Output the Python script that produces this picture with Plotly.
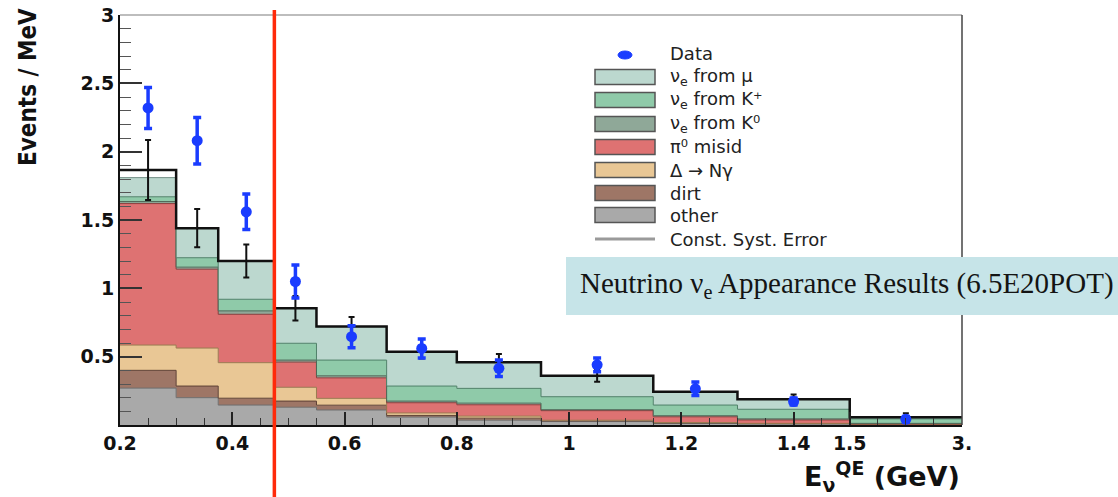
import plotly.graph_objects as go

# ---------------- data ----------------
EDGES_GEV = [0.2, 0.3, 0.375, 0.475, 0.55, 0.675, 0.8, 0.95, 1.15, 1.3, 1.5, 3.0]

# per-component contributions (Events / MeV), stacked bottom -> top
OTHER  = [0.27, 0.20, 0.146, 0.13, 0.11, 0.058, 0.035, 0.025, 0.012, 0.008, 0.003]
DIRT   = [0.13, 0.085, 0.05, 0.045, 0.035, 0.012, 0.015, 0.005, 0.003, 0.002, 0.001]
DELTA  = [0.185, 0.278, 0.26, 0.101, 0.05, 0.018, 0.015, 0.005, 0.003, 0.002, 0.001]
PI0    = [1.035, 0.577, 0.354, 0.184, 0.15, 0.075, 0.083, 0.07, 0.042, 0.025, 0.003]
NUE_K0 = [0.015, 0.015, 0.025, 0.015, 0.015, 0.012, 0.012, 0.007, 0.008, 0.008, 0.004]
NUE_KP = [0.035, 0.069, 0.085, 0.123, 0.115, 0.11, 0.108, 0.095, 0.078, 0.07, 0.033]
NUE_MU = [0.14, 0.216, 0.28, 0.256, 0.245, 0.251, 0.191, 0.154, 0.098, 0.073, 0.011]

TOTAL_PRED = [1.866, 1.44, 1.20, 0.854, 0.72, 0.536, 0.459, 0.361, 0.244, 0.188, 0.056]
TOTAL_ERR  = [0.22, 0.14, 0.12, 0.09, 0.07, 0.05, 0.06, 0.045, 0.03, 0.035, 0.03]

DATA     = [2.32, 2.08, 1.56, 1.05, 0.646, 0.56, 0.415, 0.44, 0.265, 0.172, 0.042]
DATA_ERR = [0.15, 0.17, 0.13, 0.12, 0.08, 0.07, 0.06, 0.05, 0.05, 0.025, 0.02]

THRESHOLD_GEV = 0.475

XTICK_GEV    = [0.2, 0.4, 0.6, 0.8, 1.0, 1.2, 1.4, 1.5, 3.0]
XTICK_LABELS = ["0.2", "0.4", "0.6", "0.8", "1", "1.2", "1.4", "1.5", "3."]
YTICK_VALS   = [0.5, 1, 1.5, 2, 2.5, 3]
YTICK_LABELS = ["0.5", "1", "1.5", "2", "2.5", "3"]

COMPONENTS = [
    ("other", OTHER, "#a9a9a9", "#6e6e6e"),
    ("dirt", DIRT, "#9e7666", "#5e4034"),
    ("Δ → Nγ", DELTA, "#e9c795", "#9a7a50"),
    ("π⁰ misid", PI0, "#de7272", "#8a3a3a"),
    ("ν<sub>e</sub> from K⁰", NUE_K0, "#8fa898", "#4d6656"),
    ("ν<sub>e</sub> from K⁺", NUE_KP, "#8fcaa9", "#4f8068"),
    ("ν<sub>e</sub> from μ", NUE_MU, "#bcd8cf", "#6f8c83"),
]

# ---------------- display transform (overflow bin 1.5-3 GeV compressed) ----------------
BREAK = 1.5
OVERFLOW_SCALE = 0.2 / 1.5


def to_disp(e):
    return e if e <= BREAK else BREAK + (e - BREAK) * OVERFLOW_SCALE


x_edges = [to_disp(e) for e in EDGES_GEV]
x_centers = [(a + b) / 2 for a, b in zip(x_edges[:-1], x_edges[1:])]
X_MIN, X_MAX = x_edges[0], x_edges[-1]

# ---------------- geometry helpers (pixels -> paper) ----------------
W, H = 1118, 497
PL, PR, PT, PB = 120, 962, 15, 425


def pxx(x):
    return (x - PL) / (PR - PL)


def pxy(y):
    return (PB - y) / (PB - PT)


fig = go.Figure()

# stacked histogram
cum = [0.0] * len(OTHER)
first = True
for name, vals, fillc, linec in COMPONENTS:
    cum = [c + v for c, v in zip(cum, vals)]
    fig.add_trace(go.Scatter(
        x=x_edges, y=cum + [cum[-1]], mode="lines", line_shape="hv",
        line=dict(color=linec, width=1), fill="tozeroy" if first else "tonexty",
        fillcolor=fillc, name=name, showlegend=False, hoverinfo="skip"))
    first = False

# total prediction outline
fig.add_trace(go.Scatter(
    x=x_edges, y=TOTAL_PRED + [TOTAL_PRED[-1]], mode="lines", line_shape="hv",
    line=dict(color="#111111", width=2.5), showlegend=False, hoverinfo="skip"))

# total prediction errors
fig.add_trace(go.Scatter(
    x=x_centers, y=TOTAL_PRED, mode="markers",
    marker=dict(size=1, color="#111111"),
    error_y=dict(type="data", array=TOTAL_ERR, color="#111111", thickness=2, width=3),
    showlegend=False, hoverinfo="skip"))

# data
fig.add_trace(go.Scatter(
    x=x_centers, y=DATA, mode="markers",
    marker=dict(size=11, color="#1a3cff", symbol="circle"),
    error_y=dict(type="data", array=DATA_ERR, color="#1a3cff", thickness=3.5, width=4),
    showlegend=False, hoverinfo="skip"))

shapes = []
annotations = []

# frame (top light gray, right dark gray)
shapes.append(dict(type="line", xref="paper", yref="paper", x0=0, x1=1, y0=1, y1=1,
                   line=dict(color="#bdbdbd", width=2)))
shapes.append(dict(type="line", xref="paper", yref="paper", x0=1, x1=1, y0=0, y1=1,
                   line=dict(color="#444444", width=1.5)))

# red threshold line
thr_paper = (to_disp(THRESHOLD_GEV) - X_MIN) / (X_MAX - X_MIN)
shapes.append(dict(type="line", xref="paper", yref="paper", x0=thr_paper, x1=thr_paper,
                   y0=pxy(H + 5), y1=pxy(10), line=dict(color="#ff2a0a", width=3.5)))

# legend (manual, ROOT style)
LEG_BOX_X0, LEG_BOX_X1, LEG_TEXT_X = 595, 655, 668
LEG_FONT = dict(family="DejaVu Sans", size=18, color="#222222")
rows_y = [77, 100, 124, 147, 170, 193, 215]
for (name, vals, fillc, linec), ry in zip(list(reversed(COMPONENTS)), rows_y):
    shapes.append(dict(type="rect", xref="paper", yref="paper",
                       x0=pxx(LEG_BOX_X0), x1=pxx(LEG_BOX_X1), y0=pxy(ry + 7.5), y1=pxy(ry - 7.5),
                       fillcolor=fillc, line=dict(color="#555555", width=1.5)))
    annotations.append(dict(xref="paper", yref="paper", x=pxx(LEG_TEXT_X), y=pxy(ry),
                            text=name, showarrow=False, xanchor="left", yanchor="middle",
                            font=LEG_FONT))
# data entry
shapes.append(dict(type="circle", xref="paper", yref="paper",
                   x0=pxx(618), x1=pxx(632), y0=pxy(59), y1=pxy(51),
                   fillcolor="#1a3cff", line=dict(color="#1a3cff", width=1)))
annotations.append(dict(xref="paper", yref="paper", x=pxx(LEG_TEXT_X), y=pxy(54),
                        text="Data", showarrow=False, xanchor="left", yanchor="middle",
                        font=LEG_FONT))
# const syst error entry
shapes.append(dict(type="line", xref="paper", yref="paper",
                   x0=pxx(LEG_BOX_X0), x1=pxx(LEG_BOX_X1), y0=pxy(239), y1=pxy(239),
                   line=dict(color="#9a9a9a", width=3)))
annotations.append(dict(xref="paper", yref="paper", x=pxx(LEG_TEXT_X), y=pxy(239),
                        text="Const. Syst. Error", showarrow=False, xanchor="left", yanchor="middle",
                        font=LEG_FONT))

# title box
shapes.append(dict(type="rect", xref="paper", yref="paper",
                   x0=pxx(566), x1=pxx(1130), y0=pxy(315), y1=pxy(257),
                   fillcolor="#c6e4e8", line=dict(width=0), layer="above"))
annotations.append(dict(xref="paper", yref="paper", x=pxx(578), y=pxy(285),
                        text="Neutrino ν<sub>e</sub> Appearance Results (6.5E20POT)",
                        showarrow=False, xanchor="left", yanchor="middle",
                        font=dict(family="Liberation Serif", size=29, color="#141414")))

# axis titles
annotations.append(dict(xref="paper", yref="paper", x=pxx(962), y=pxy(476),
                        text="E<sub>ν</sub><sup>QE</sup> (GeV)", showarrow=False,
                        xanchor="right", yanchor="middle",
                        font=dict(family="DejaVu Sans", size=27, color="#111111", weight="bold")))
annotations.append(dict(xref="paper", yref="paper", x=pxx(28), y=pxy(87),
                        text="Events / MeV", showarrow=False, textangle=-90,
                        xanchor="center", yanchor="middle",
                        font=dict(family="Liberation Sans Narrow, DejaVu Sans Condensed, Liberation Sans",
                                  size=24, color="#111111", weight="bold")))

tickfont = dict(family="DejaVu Sans", size=19, color="#111111", weight="bold")

fig.update_layout(
    width=W, height=H, autosize=False,
    margin=dict(l=PL, r=W - PR, t=PT, b=H - PB),
    paper_bgcolor="white", plot_bgcolor="white",
    showlegend=False,
    shapes=shapes, annotations=annotations,
    xaxis=dict(range=[X_MIN, X_MAX], showgrid=False, zeroline=False,
               showline=True, linecolor="#111111", linewidth=2, mirror=False,
               tickmode="array", tickvals=[to_disp(v) for v in XTICK_GEV], ticktext=XTICK_LABELS,
               ticks="inside", ticklen=13, tickwidth=1.5, tickcolor="#222222",
               minor=dict(ticks="inside", tickmode="linear", tick0=0.2, dtick=0.05,
                          ticklen=7, tickwidth=1.2, tickcolor="#333333", showgrid=False),
               tickfont=tickfont, automargin=False, fixedrange=True),
    yaxis=dict(range=[0, 3], showgrid=False, zeroline=False,
               showline=True, linecolor="#111111", linewidth=2, mirror=False,
               tickmode="array", tickvals=YTICK_VALS, ticktext=YTICK_LABELS,
               ticks="inside", ticklen=22, tickwidth=1.5, tickcolor="#333333",
               minor=dict(ticks="inside", tickmode="linear", tick0=0, dtick=0.1,
                          ticklen=11, tickwidth=1.2, tickcolor="#555555", showgrid=False),
               tickfont=tickfont, automargin=False, fixedrange=True),
)

fig.write_html("out.html")
